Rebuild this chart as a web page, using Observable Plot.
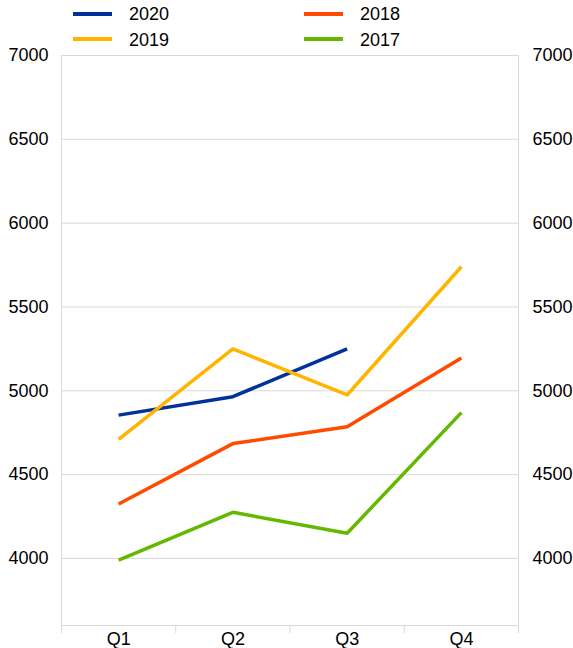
<!DOCTYPE html>
<html>
<head>
<meta charset="utf-8">
<script src="https://cdn.jsdelivr.net/npm/d3@7"></script>
<script src="https://cdn.jsdelivr.net/npm/@observablehq/plot@0.6"></script>
<style>
  html, body { margin: 0; padding: 0; background: #fff; }
  body { width: 573px; height: 648px; overflow: hidden; font-family: "Liberation Sans", Arial, sans-serif; }
  #legend { position: relative; width: 573px; height: 45px; }
  .sw { position: absolute; width: 39px; height: 4px; }
  .lb { position: absolute; font-size: 18px; line-height: 18px; color: #000; }
  #chart svg { display: block; }
</style>
</head>
<body>
<div id="legend"></div>
<div id="chart"></div>
<script>
// ---- data ----
const quarters = ["Q1", "Q2", "Q3", "Q4"];
const years = ["2020", "2019", "2018", "2017"];
const colors = ["#003299", "#FFB400", "#FF4B00", "#65B800"];
const y2020 = [4855, 4965, 5250];
const y2019 = [4710, 5250, 4975, 5740];
const y2018 = [4325, 4685, 4785, 5195];
const y2017 = [3990, 4275, 4150, 4870];
const yTicks = [4000, 4500, 5000, 5500, 6000, 6500, 7000];
const yDomain = [3600, 7000];

const seriesValues = [y2020, y2019, y2018, y2017];
const rows = years.flatMap((yr, s) =>
  seriesValues[s].map((v, i) => ({year: yr, q: i + 1, v}))
);
const qPositions = quarters.map((_, i) => i + 1);
const qBoundaries = [0.5, ...qPositions.map(p => p + 0.5)];

// ---- legend (HTML, above the SVG) ----
const legend = document.getElementById("legend");
const legendLayout = [
  {swX: 73, txtX: 129, row: 0},
  {swX: 73, txtX: 129, row: 1},
  {swX: 304, txtX: 360, row: 0},
  {swX: 304, txtX: 360, row: 1}
];
years.forEach((yr, i) => {
  const L = legendLayout[i];
  const cy = L.row === 0 ? 14 : 39.3;
  const sw = document.createElement("div");
  sw.className = "sw";
  sw.style.left = L.swX + "px";
  sw.style.top = (cy - 2) + "px";
  sw.style.background = colors[i];
  legend.appendChild(sw);
  const lb = document.createElement("div");
  lb.className = "lb";
  lb.style.left = L.txtX + "px";
  lb.style.top = (cy - 8.8) + "px";
  lb.textContent = yr;
  legend.appendChild(lb);
});

// ---- chart ----
const chart = Plot.plot({
  width: 573,
  height: 603,
  marginTop: 10,
  marginBottom: 23,
  marginLeft: 61,
  marginRight: 55,
  style: {fontFamily: "'Liberation Sans', Arial, sans-serif", fontSize: "18px", color: "#000", background: "#fff"},
  x: {domain: [0.5, 4.5]},
  y: {domain: yDomain},
  color: {domain: years, range: colors},
  marks: [
    Plot.gridY(yTicks, {stroke: "#d9d9d9", strokeOpacity: 1, strokeWidth: 1}),
    Plot.frame({stroke: "#d9d9d9", strokeWidth: 1}),
    Plot.axisY(yTicks, {anchor: "left", tickSize: 0, tickPadding: 13, label: null, tickFormat: d => String(d)}),
    Plot.axisY(yTicks, {anchor: "right", tickSize: 0, tickPadding: 14, label: null, tickFormat: d => String(d)}),
    Plot.axisX(qBoundaries, {anchor: "bottom", tickSize: 8, tickFormat: () => "", stroke: "#d9d9d9", strokeOpacity: 1, label: null}),
    Plot.axisX(qPositions, {anchor: "bottom", tickSize: 0, tickPadding: 7, tickFormat: i => quarters[i - 1], label: null}),
    Plot.line(rows, {x: "q", y: "v", z: "year", stroke: "year", strokeWidth: 3.5, strokeLinejoin: "miter", strokeLinecap: "butt"})
  ]
});
document.getElementById("chart").appendChild(chart);
</script>
</body>
</html>
